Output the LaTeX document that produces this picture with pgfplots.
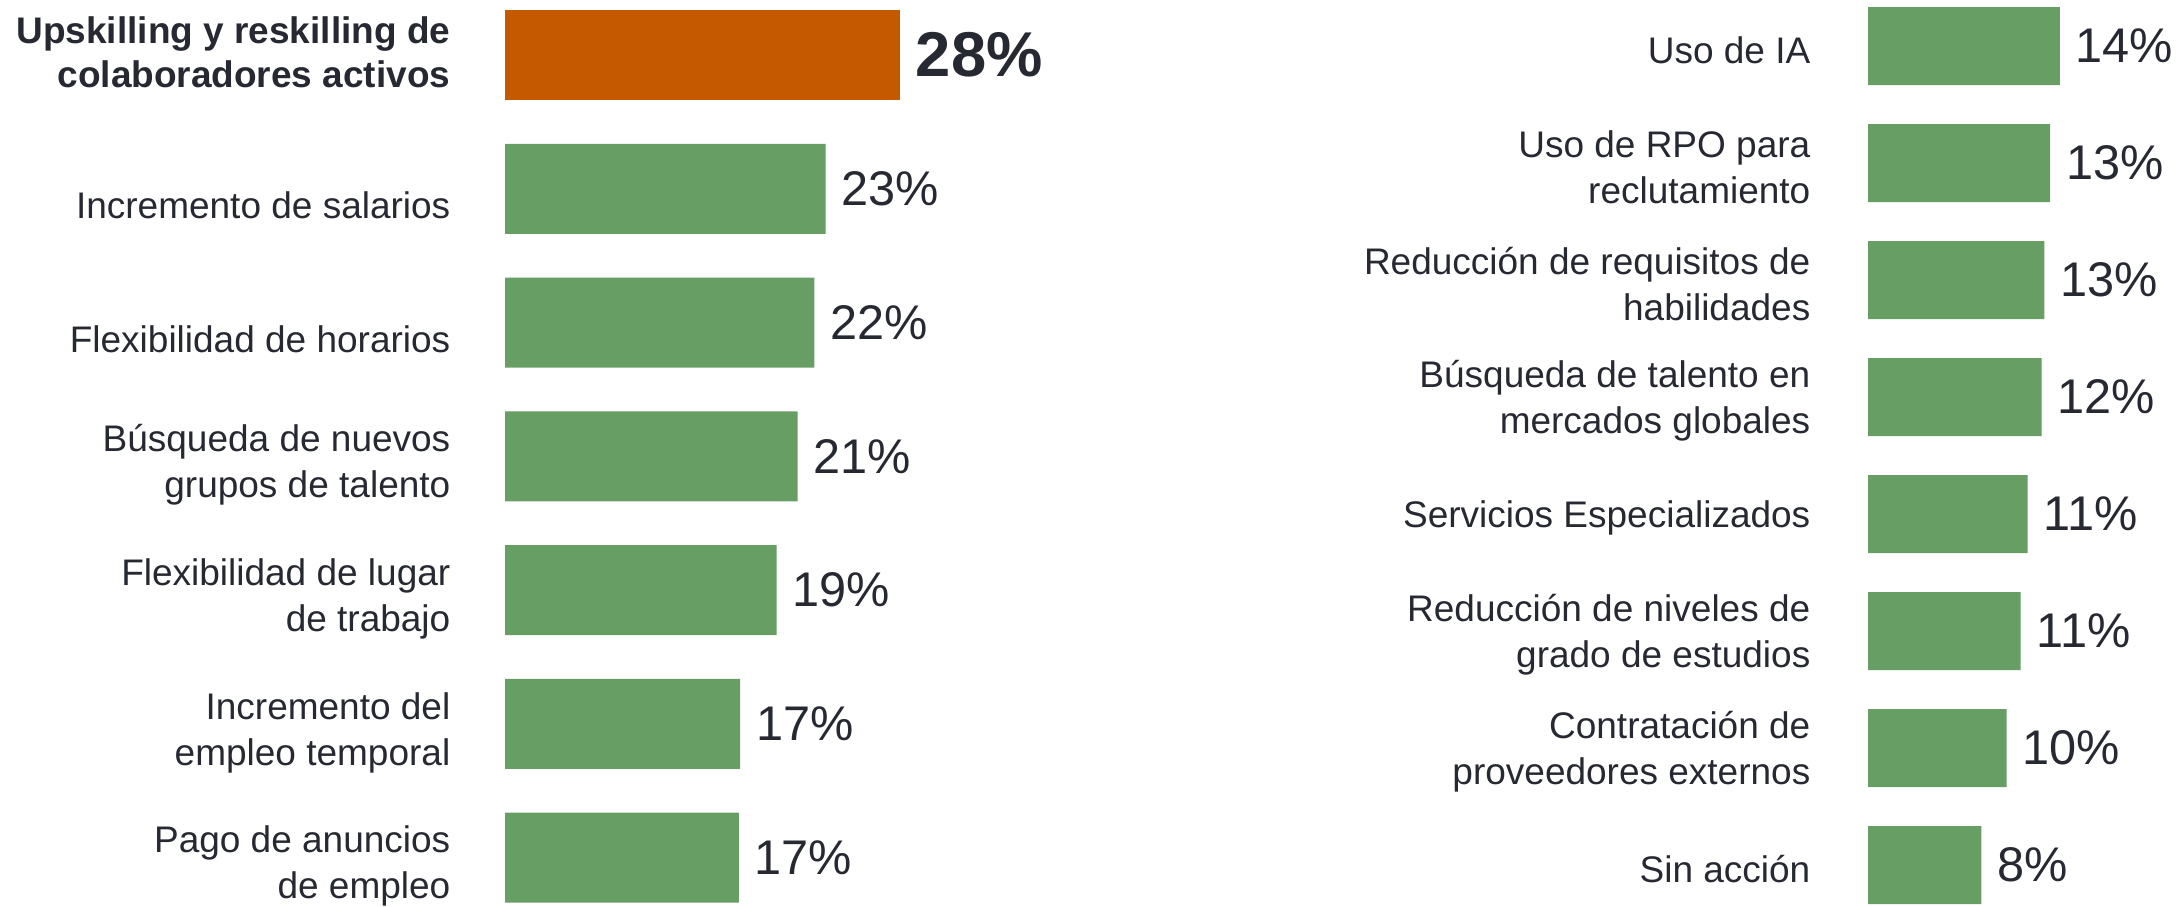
\documentclass[border=0pt]{standalone}
\usepackage{pgfplots}
\pgfplotsset{compat=1.18}
\usepackage{fontspec}
\setmainfont{Liberation Sans}
\definecolor{barorange}{RGB}{197,89,0}
\definecolor{bargreen}{RGB}{103,158,100}
\definecolor{txt}{RGB}{38,41,50}
\begin{document}
\begin{tikzpicture}
\pgfplotsset{
  hbars/.style={
    xbar, scale only axis,
    hide x axis,
    axis y line*=left,
    y axis line style={draw=none},
    major tick length=0pt,
    xmin=0, xmax=30, width=126pt,
    y dir=reverse, ymin=-0.5,
    yticklabel style={align=right, inner sep=0pt, text=txt,
      font=\fontsize{11.1}{13.8}\selectfont},
    clip=false,
  },
  pct/.style={
    draw=none, bar shift=0pt,
    nodes near coords, point meta=explicit symbolic,
    every node near coord/.append style={anchor=west, inner sep=0pt,
      xshift=4.6pt, text=txt, font=\fontsize{14.6}{17}\selectfont},
  },
}
% left panel
\begin{axis}[hbars,
  at={(151.5pt,3.56pt)}, anchor=north west,
  height=280.9pt, ymax=6.5,
  bar width=27pt,
  yticklabel style={xshift=-16.2pt, yshift=-2.6pt},
  ytick={3,4,5,6},
  yticklabels={
    {Búsqueda de nuevos\\grupos de talento},
    {Flexibilidad de lugar\\de trabajo},
    {Incremento del\\empleo temporal},
    {Pago de anuncios\\de empleo}},
  extra y ticks={1,2},
  extra y tick labels={Incremento de salarios, Flexibilidad de horarios},
  extra y tick style={yticklabel style={yshift=-2.4pt}},
]
\addplot[pct, fill=barorange,
  every node near coord/.append style={font=\fontsize{19}{22}\selectfont\bfseries}]
  coordinates {(28.2,0) [28\%]};
\addplot[pct, fill=bargreen] coordinates {
  (22.9,1) [23\%]
  (22.1,2) [22\%]
  (20.9,3) [21\%]
  (19.4,4) [19\%]
  (16.8,5) [17\%]
  (16.7,6) [17\%]
};
% highlighted category label
\node[anchor=east, align=right, inner sep=0pt, text=txt, xshift=-16.2pt, yshift=0.8pt,
  font=\fontsize{11.1}{13}\selectfont\bfseries] at (axis cs:0,0)
  {Upskilling y reskilling de\\colaboradores activos};
\end{axis}
% right panel
\begin{axis}[hbars,
  at={(560.4pt,3.75pt)}, anchor=north west,
  height=280.8pt, ymax=7.5,
  bar width=23.4pt,
  yticklabel style={xshift=-17.1pt, yshift=-1.2pt},
  ytick={0,1,2,3,4,5,6,7},
  yticklabels={
    {Uso de IA},
    {Uso de RPO para\\reclutamiento},
    {Reducción de requisitos de\\habilidades},
    {Búsqueda de talento en\\mercados globales},
    {Servicios Especializados},
    {Reducción de niveles de\\grado de estudios},
    {Contratación de\\proveedores externos},
    {Sin acción}},
]
\addplot[pct, fill=bargreen] coordinates {
  (13.7,0) [14\%]
  (13.0,1) [13\%]
  (12.6,2) [13\%]
  (12.4,3) [12\%]
  (11.4,4) [11\%]
  (10.9,5) [11\%]
  (9.9,6) [10\%]
  (8.1,7) [8\%]
};
\end{axis}
\pgfresetboundingbox
\useasboundingbox (0,0) rectangle (653.1pt,-272.1pt);
\end{tikzpicture}
\end{document}
